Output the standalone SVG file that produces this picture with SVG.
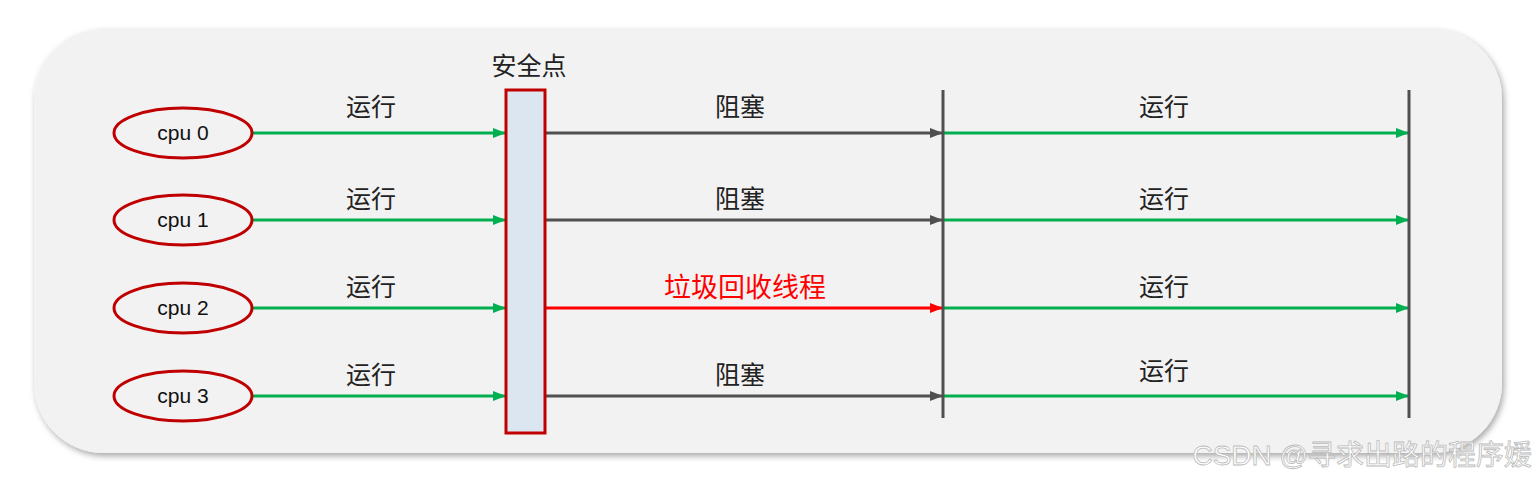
<svg xmlns="http://www.w3.org/2000/svg" width="1538" height="480" viewBox="0 0 1538 480">
<defs>
<style>
.t{font-family:"Liberation Sans","Noto Sans CJK SC",sans-serif;font-size:25px;fill:#222;text-anchor:middle}
.c{font-family:"Liberation Sans",sans-serif;font-size:21px;fill:#111;text-anchor:middle}
.g{stroke:#00b050;stroke-width:3;fill:none;marker-end:url(#ag)}
.k{stroke:#505050;stroke-width:3;fill:none;marker-end:url(#ak)}
.r{stroke:#ff0000;stroke-width:3;fill:none;marker-end:url(#ar)}
.e{fill:none;stroke:#c00000;stroke-width:3}
</style>
<marker id="ag" markerWidth="13" markerHeight="10" refX="12" refY="5" orient="auto" markerUnits="userSpaceOnUse"><path d="M0,0L13,5L0,10z" fill="#00b050"/></marker>
<marker id="ak" markerWidth="13" markerHeight="10" refX="12" refY="5" orient="auto" markerUnits="userSpaceOnUse"><path d="M0,0L13,5L0,10z" fill="#505050"/></marker>
<marker id="ar" markerWidth="13" markerHeight="10" refX="12" refY="5" orient="auto" markerUnits="userSpaceOnUse"><path d="M0,0L13,5L0,10z" fill="#ff0000"/></marker>
<filter id="sh" x="-5%" y="-5%" width="110%" height="115%"><feDropShadow dx="2" dy="3" stdDeviation="3" flood-color="#000" flood-opacity="0.35"/></filter>
</defs>
<rect width="1538" height="480" fill="#fff"/>
<rect x="34" y="29" width="1468" height="424" rx="70" fill="#f2f2f2" filter="url(#sh)"/>
<g id="connectors">
<path class="g" d="M252,133H505"/><path class="g" d="M252,220H505"/><path class="g" d="M252,308H505"/><path class="g" d="M252,396H505"/>
<path class="k" d="M545,133H942"/><path class="k" d="M545,220H942"/><path class="r" d="M545,308H942"/><path class="k" d="M545,396H942"/>
<path class="g" d="M943,133H1408"/><path class="g" d="M943,220H1408"/><path class="g" d="M943,308H1408"/><path class="g" d="M943,396H1408"/>
<path d="M943,90V418M1409,90V418" stroke="#505050" stroke-width="3"/>
</g>
<g id="safepoint"><rect x="506" y="90" width="39" height="343" fill="#dce6f1" stroke="#c00000" stroke-width="3"/><text class="t" x="529" y="75">安全点</text></g>
<g id="cpu0"><ellipse class="e" cx="183" cy="133" rx="69" ry="25"/><text class="c" x="183" y="140">cpu 0</text></g>
<g id="cpu1"><ellipse class="e" cx="183" cy="220" rx="69" ry="25"/><text class="c" x="183" y="227">cpu 1</text></g>
<g id="cpu2"><ellipse class="e" cx="183" cy="308" rx="69" ry="25"/><text class="c" x="183" y="315">cpu 2</text></g>
<g id="cpu3"><ellipse class="e" cx="183" cy="396" rx="69" ry="25"/><text class="c" x="183" y="403">cpu 3</text></g>
<g id="labels">
<text class="t" x="371" y="116">运行</text><text class="t" x="371" y="208">运行</text><text class="t" x="371" y="296">运行</text><text class="t" x="371" y="384">运行</text>
<text class="t" x="740" y="116">阻塞</text><text class="t" x="740" y="208">阻塞</text><text class="t" x="745" y="297" style="fill:#ff0000;font-size:27px">垃圾回收线程</text><text class="t" x="740" y="384">阻塞</text>
<text class="t" x="1164" y="116">运行</text><text class="t" x="1164" y="208">运行</text><text class="t" x="1164" y="296">运行</text><text class="t" x="1164" y="380">运行</text>
</g>
<text x="1532" y="465" style="font-family:'Liberation Sans','Noto Sans CJK SC',sans-serif;font-size:28px;fill:#fff;stroke:#bbb;stroke-width:0.8;text-anchor:end">CSDN @寻求出路的程序媛</text>
</svg>
